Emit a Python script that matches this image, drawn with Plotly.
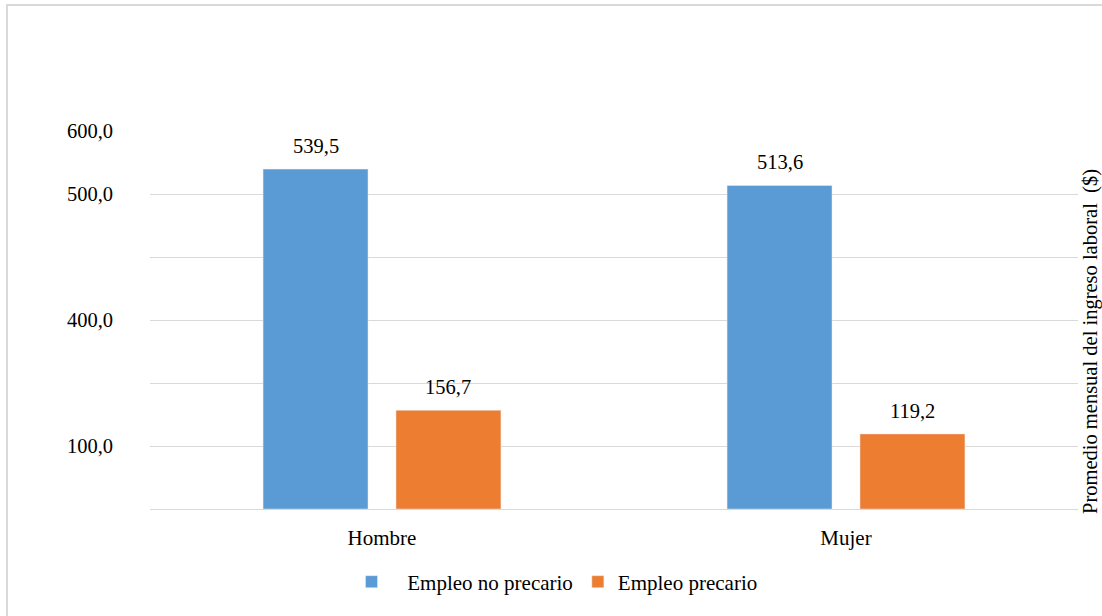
import plotly.graph_objects as go

categories = ["Hombre", "Mujer"]
empleo_no_precario = [539.5, 513.6]
empleo_precario = [156.7, 119.2]
series_names = ["Empleo no precario", "Empleo precario"]
y_tick_values = [0, 100, 200, 300, 400, 500, 600]
y_tick_labels = ["", "100,0", "", "400,0", "", "500,0", "600,0"]
y_title = "Promedio mensual del ingreso laboral\u00a0 ($)"

FONT = "Liberation Serif"
BLUE = "#5b9bd5"
ORANGE = "#ed7d31"
GRID = "#d9d9d9"

W, H = 1102, 616
L, R, T, B = 150, 24, 131, 107
pw, ph = W - L - R, H - T - B

def px_to_paper_x(x):
    return (x - L) / pw

def px_to_paper_y(y):
    return 1 - (y - T) / ph

fig = go.Figure()
fig.add_trace(go.Bar(x=categories, y=empleo_no_precario,
                     name="\u00a0\u00a0\u00a0" + series_names[0],
                     marker_color=BLUE))
fig.add_trace(go.Bar(x=categories, y=empleo_precario, name=series_names[1],
                     marker_color=ORANGE))

def fmt(v):
    return f"{v:.1f}".replace(".", ",")

cat_w = pw / len(categories)
bargap = 0.427
slot = cat_w * (1 - bargap) / 2
for vals, sign in ((empleo_no_precario, -1), (empleo_precario, 1)):
    for c, v in zip(categories, vals):
        fig.add_annotation(x=c, y=v, text=fmt(v), showarrow=False,
                           xshift=sign * slot / 2, yshift=23, yanchor="middle",
                           font=dict(family=FONT, size=20.5, color="#000"))

fig.add_annotation(xref="paper", yref="paper", x=px_to_paper_x(1090),
                   y=px_to_paper_y(342), text=y_title, textangle=-90,
                   showarrow=False, xanchor="center", yanchor="middle",
                   font=dict(family=FONT, size=20.5, color="#000"))

fig.add_shape(type="rect", xref="paper", yref="paper",
              x0=px_to_paper_x(7), x1=px_to_paper_x(1120),
              y0=px_to_paper_y(640), y1=px_to_paper_y(5),
              line=dict(color=GRID, width=2), fillcolor="rgba(0,0,0,0)",
              layer="below")

fig.update_layout(
    width=W, height=H,
    margin=dict(l=L, r=R, t=T, b=B, autoexpand=False),
    paper_bgcolor="white", plot_bgcolor="white",
    barmode="group", bargap=bargap, bargroupgap=0.2105,
    font=dict(family=FONT, size=21, color="#000"),
    showlegend=True,
    legend=dict(orientation="h", x=px_to_paper_x(557), xanchor="center",
                y=px_to_paper_y(582), yanchor="middle",
                font=dict(family=FONT, size=21, color="#000"),
                itemwidth=30),
    xaxis=dict(showgrid=False, showline=False, ticks="", ticklabelstandoff=14,
               tickfont=dict(family=FONT, size=21, color="#000")),
    yaxis=dict(range=[0, 600], tickvals=y_tick_values, ticktext=y_tick_labels,
               showgrid=True, gridcolor=GRID, gridwidth=1,
               zeroline=True, zerolinecolor=GRID, zerolinewidth=1,
               showline=False, ticks="", ticklabelstandoff=36,
               tickfont=dict(family=FONT, size=20.5, color="#000")),
)

fig.write_html("out.html", config={"displayModeBar": False},
               post_script="document.body.style.margin='0';document.body.style.padding='0';")
